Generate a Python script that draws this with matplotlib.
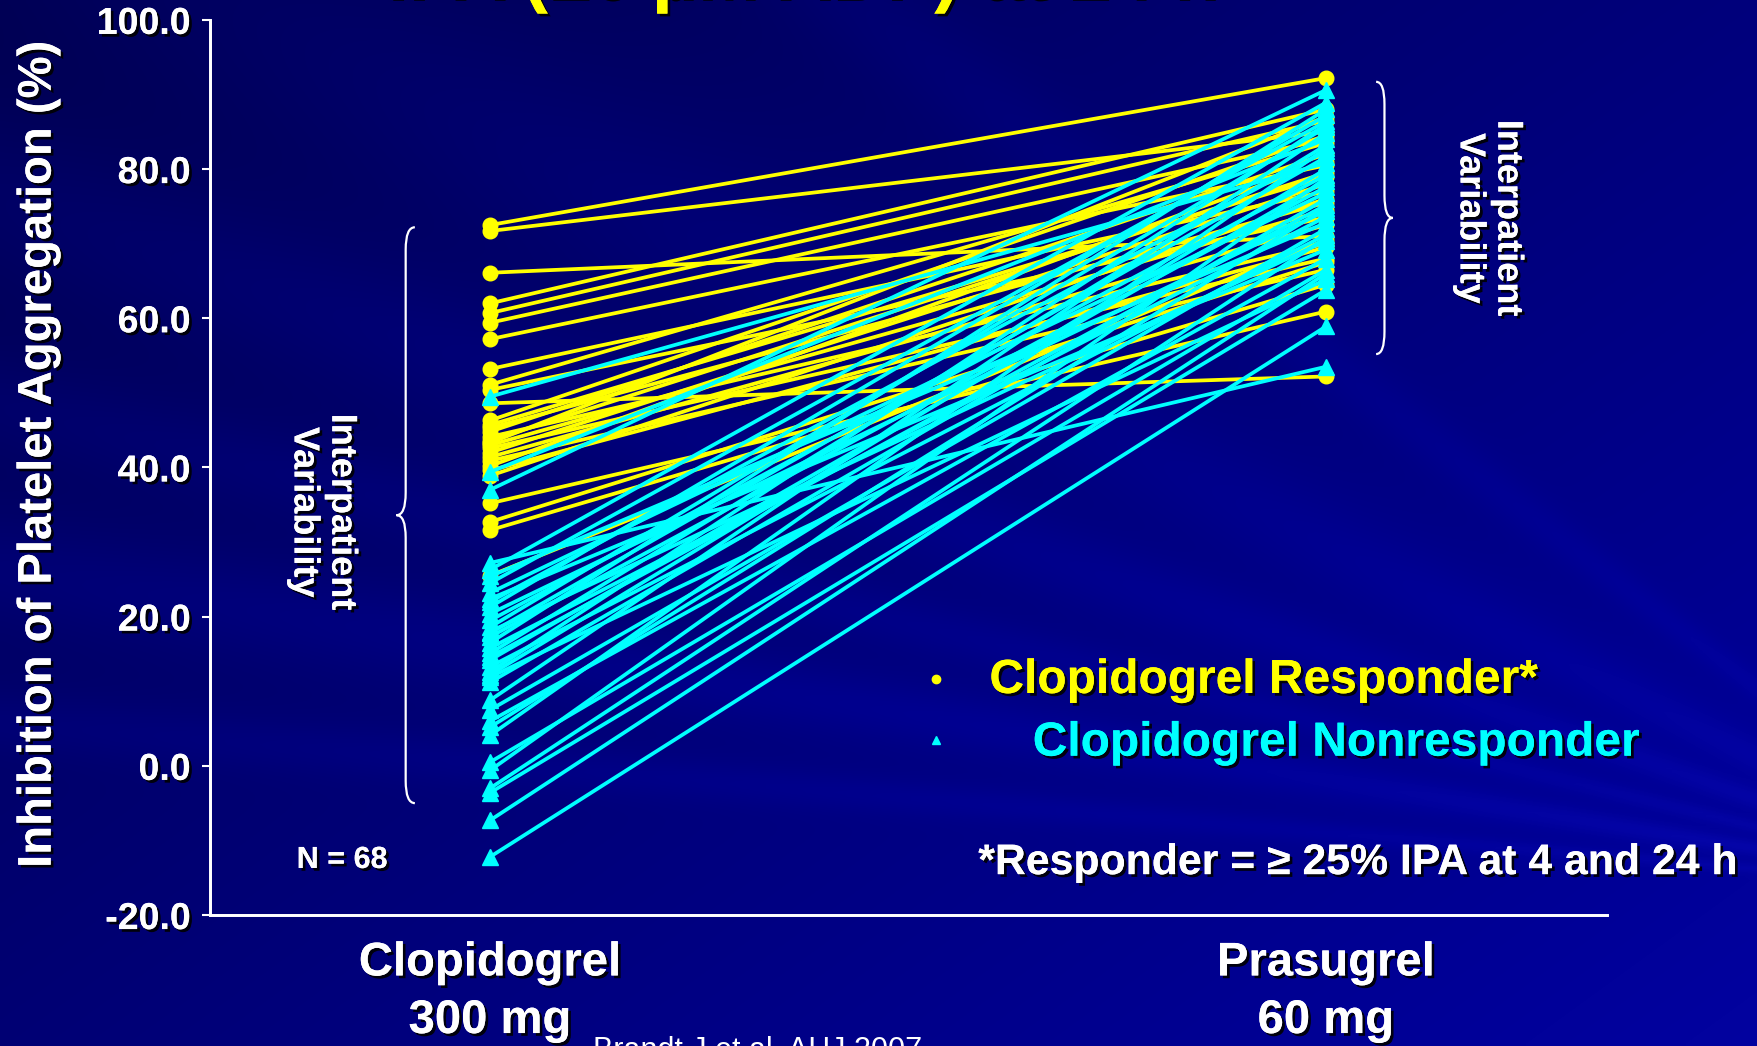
"""
IPA at 24 h: clopidogrel 300 mg vs prasugrel 60 mg, paired per patient
"""

import numpy as np
import matplotlib
matplotlib.use("Agg")
import matplotlib.pyplot as plt
import matplotlib.patheffects as pe
from matplotlib.path import Path
import matplotlib.patches as patches

plt.rcParams["font.family"] = ["Liberation Sans", "DejaVu Sans"]

# data (IPA %)
groups = ["Clopidogrel\n300 mg", "Prasugrel\n60 mg"]
resp_clop = [72.5, 71.7, 66.1, 62.0, 60.7, 59.4, 57.2, 53.2, 51.1, 50.4,
             48.6, 46.3, 45.7, 45.3, 44.8, 44.1, 43.6, 43.3, 43.0, 42.6,
             42.0, 41.4, 40.9, 40.2, 39.6, 38.9, 35.2, 32.7, 31.6, 25.5]
resp_pras = [92.2, 85.0, 71.0, 88.0, 86.5, 84.0, 80.5, 77.0, 83.5, 73.5,
             52.2, 84.5, 79.0, 75.5, 82.0, 70.0, 79.5, 87.0, 74.5, 68.0,
             78.0, 72.5, 66.5, 81.0, 69.5, 76.0, 60.9, 67.5, 64.5, 70.5]
nonresp_clop = [49.5, 39.4, 37.0, 27.2, 26.3, 25.4, 24.5, 23.2, 22.4, 22.0,
                21.3, 20.4, 19.5, 18.6, 18.0, 17.8, 17.3, 16.5, 15.8, 15.1,
                14.6, 14.2, 13.3, 12.6, 12.2, 11.9, 11.2, 8.8, 7.5, 6.0,
                5.2, 4.1, 0.5, -0.6, -3.0, -3.6, -7.3, -12.2]
nonresp_pras = [80.8, 84.0, 90.6, 53.5, 88.9, 72.8, 86.4, 76.8, 69.2, 82.4,
                87.2, 74.4, 79.2, 85.6, 70.4, 81.6, 77.6, 88.0, 73.6, 83.2,
                75.2, 78.4, 71.2, 86.0, 80.0, 65.2, 76.0, 84.8, 72.0, 68.0,
                74.8, 82.8, 66.5, 78.8, 70.8, 63.8, 66.0, 58.9]
yticks = [-20, 0, 20, 40, 60, 80, 100]

YELLOW = "#FFFF00"
CYAN = "#00FFFF"
shadow = [pe.withSimplePatchShadow(offset=(2, -2), shadow_rgbFace="black", alpha=0.9), pe.Normal()]

fig = plt.figure(figsize=(17.58, 10.46), dpi=100)

# slide background: dark blue gradient with faint rays
h, w = 262, 440
yy, xx = np.mgrid[0:h, 0:w]
xf, yf = xx / w, yy / h
blue = 80 + 80 * (0.55 * xf + 0.45 * yf)
theta = np.degrees(np.arctan2(yf - 0.85, xf - 1.15))
for ang, width, gain in [(-150, 3.0, 14), (-158, 2.0, 12), (-165, 2.5, 16), (-172, 1.5, 12), (-140, 4.0, 12), (-128, 2.0, 10)]:
    blue += gain * np.exp(-((theta - ang) / width) ** 2)
rg = np.clip((blue - 150) * 0.25, 0, 20)
img = np.dstack([rg, rg, np.clip(blue, 0, 255)]) / 255.0
bg = fig.add_axes([0, 0, 1, 1], zorder=-10)
bg.imshow(img, aspect="auto", extent=[0, 1, 0, 1], interpolation="bilinear")
bg.axis("off")

ax = fig.add_axes([0.1195, 0.1252, 0.7945, 0.8558])
ax.patch.set_alpha(0)

for l, r in zip(resp_clop, resp_pras):
    ax.plot([0, 1], [l, r], color=YELLOW, lw=2.7, marker="o", ms=10.5, zorder=3)
for l, r in zip(nonresp_clop, nonresp_pras):
    ax.plot([0, 1], [l, r], color=CYAN, lw=2.7, marker="^", ms=11, zorder=4)

ax.set_xlim(-0.335, 1.336)
ax.set_ylim(-20, 100)
ax.set_yticks(yticks)
ax.set_yticklabels([f"{v:.1f}" for v in yticks])
ax.set_xticks([0, 1])
ax.set_xticklabels(groups, linespacing=1.4)
for s in ["top", "right"]:
    ax.spines[s].set_visible(False)
for s in ["left", "bottom"]:
    ax.spines[s].set_color("white")
    ax.spines[s].set_linewidth(2)
    ax.spines[s].set_path_effects(shadow)
ax.tick_params(axis="y", colors="white", length=6, width=1.5, pad=8, labelsize=27)
ax.tick_params(axis="x", colors="white", length=0, pad=19, labelsize=34)
for lab in ax.get_yticklabels() + ax.get_xticklabels():
    lab.set_fontweight("bold")
    lab.set_path_effects(shadow)

fig.text(0.022, 0.566, "Inhibition of Platelet Aggregation (%)", rotation=90, ha="center", va="center",
         fontsize=34, fontweight="bold", color="white", path_effects=shadow)


def brace(x_open, x_tip, y_top, y_bot, d):
    xm = (x_open + x_tip) / 2
    ym = (y_top + y_bot) / 2
    verts = [(x_open, y_top), (xm, y_top), (xm, y_top - d),
             (xm, ym + d), (xm, ym), (x_tip, ym),
             (xm, ym), (xm, ym - d),
             (xm, y_bot + d), (xm, y_bot), (x_open, y_bot)]
    codes = [Path.MOVETO, Path.CURVE3, Path.CURVE3,
             Path.LINETO, Path.CURVE3, Path.CURVE3,
             Path.CURVE3, Path.CURVE3,
             Path.LINETO, Path.CURVE3, Path.CURVE3]
    return patches.PathPatch(Path(verts, codes), fill=False, ec="white", lw=1.6, clip_on=False)


ax.add_patch(brace(-0.09, -0.112, 72.2, -5.0, 3.0))
ax.add_patch(brace(1.060, 1.080, 91.7, 55.2, 3.0))

ax.text(-0.2, 34.0, "Interpatient\nVariability", rotation=270, ha="center", va="center",
        fontsize=26, fontweight="bold", color="white", path_effects=shadow, linespacing=1.1)
ax.text(1.195, 73.4, "Interpatient\nVariability", rotation=270, ha="center", va="center",
        fontsize=26, fontweight="bold", color="white", path_effects=shadow, linespacing=1.1)

ax.text(0.0945, 0.0615, "N = 68", transform=ax.transAxes, ha="center", va="center",
        fontsize=22, fontweight="bold", color="white", path_effects=shadow)

# legend-like labels
ax.plot([0.520], [0.264], marker="o", ms=6, color=YELLOW, transform=ax.transAxes, clip_on=False)
ax.plot([0.520], [0.196], marker="^", ms=6, color=CYAN, transform=ax.transAxes, clip_on=False)
ax.text(0.558, 0.262, "Clopidogrel Responder*", transform=ax.transAxes, ha="left", va="center",
        fontsize=34.5, fontweight="bold", color=YELLOW, path_effects=shadow)
ax.text(0.589, 0.192, "Clopidogrel Nonresponder", transform=ax.transAxes, ha="left", va="center",
        fontsize=34.5, fontweight="bold", color=CYAN, path_effects=shadow)
ax.text(0.550, 0.058, "*Responder = \u2265 25% IPA at 4 and 24 h", transform=ax.transAxes, ha="left",
        va="center", fontsize=30.8, fontweight="bold", color="white", path_effects=shadow)

# title and citation, cut off by the slide edges
fig.text(0.456, 1 + 2 / 1046, "IPA (20 \u00b5M ADP) at 24 h", ha="center", va="baseline",
         fontsize=54, fontweight="bold", color=YELLOW, path_effects=shadow)
fig.text(0.431, 1 - 1036 / 1046, "Brandt J et al. AHJ 2007", ha="center", va="top",
         fontsize=22, color="white")

fig.savefig("out.png", dpi=100)
